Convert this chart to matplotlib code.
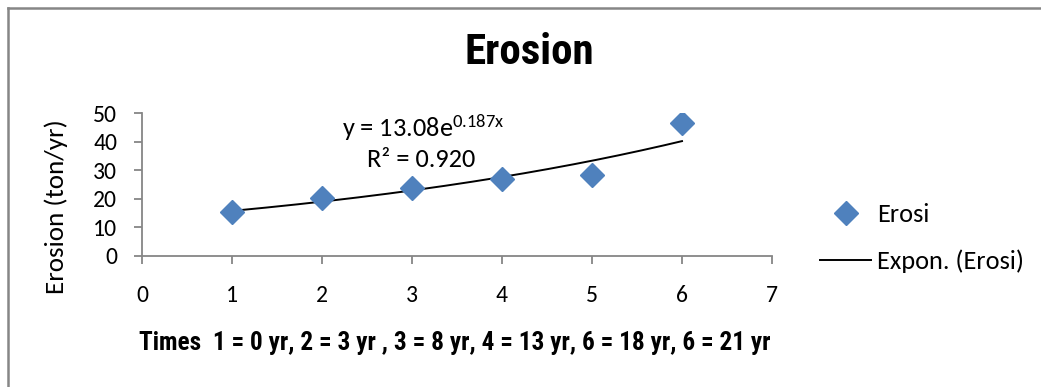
import numpy as np
import matplotlib
matplotlib.use("Agg")
import matplotlib.pyplot as plt
from matplotlib.lines import Line2D

# ---- data ----
times = [1, 2, 3, 4, 5, 6]
erosion = [15.4, 20.2, 23.8, 26.9, 28.3, 46.5]
fit_a = 13.08
fit_b = 0.187
r2 = 0.920
x_ticks = [0, 1, 2, 3, 4, 5, 6, 7]
y_ticks = [0, 10, 20, 30, 40, 50]
title = "Erosion"
ylabel = "Erosion (ton/yr)"
xlabel = "Times  1 = 0 yr, 2 = 3 yr , 3 = 8 yr, 4 = 13 yr, 6 = 18 yr, 6 = 21 yr"

BODY = ['Carlito', 'Lato', 'DejaVu Sans']
NARROW = ['Roboto Condensed', 'Archivo Narrow', 'IBM Plex Sans Condensed', 'DejaVu Sans']
plt.rcParams['font.family'] = BODY
plt.rcParams['mathtext.default'] = 'regular'

W, H = 1041, 387
fig = plt.figure(figsize=(W / 100, H / 100), dpi=100)
fig.patch.set_facecolor('white')

def fx(px):
    return px / W

def fy(py):
    return 1 - py / H

ax = fig.add_axes([fx(142), fy(256), fx(772) - fx(142), fy(113) - fy(256)])

xs = np.linspace(times[0], times[-1], 200)
trend = fit_a * np.exp(fit_b * xs)
ax.plot(times, erosion, linestyle='none', marker='D', markersize=12,
        color='#4F81BD', label='Erosi', zorder=3)
ax.plot(xs, trend, color='black', linewidth=1.4, label='Expon. (Erosi)', zorder=2)

ax.set_xlim(0, 7)
ax.set_ylim(0, 50)
ax.set_xticks(x_ticks)
ax.set_yticks(y_ticks)
for s in ['top', 'right']:
    ax.spines[s].set_visible(False)
for s in ['left', 'bottom']:
    ax.spines[s].set_color('#868686')
    ax.spines[s].set_linewidth(1.3)
ax.tick_params(axis='both', colors='#868686', length=5.8, width=1.3, direction='out',
               labelcolor='black', labelsize=17)
ax.tick_params(axis='x', pad=15)
ax.tick_params(axis='y', pad=12)
ax.set_facecolor('none')

fig.text(fx(56), fy(207), ylabel, rotation=90, ha='center', va='center', fontsize=19.5)
fig.text(fx(529), fy(52), title, ha='center', va='center', fontsize=31,
         fontweight='bold', family=NARROW)
fig.text(fx(455), fy(343), xlabel, ha='center', va='center', fontsize=18.2,
         fontweight='bold', family=NARROW)

fig.text(fx(342), fy(128), "y = %.2fe$^{%.3fx}$" % (fit_a, fit_b),
         ha='left', va='center', fontsize=19)
fig.text(fx(367), fy(159), "R² = %.3f" % r2, ha='left', va='center', fontsize=19)

ax.legend(loc='center left', bbox_to_anchor=(fx(820), fy(238)),
          bbox_transform=fig.transFigure, frameon=False, fontsize=19,
          handlelength=1.95, handletextpad=0.2, labelspacing=0.88,
          borderpad=0, borderaxespad=0)

# chart border (top and left visible)
fig.add_artist(Line2D([fx(8), 1], [fy(8), fy(8)], color='#868686', linewidth=1.8,
                      transform=fig.transFigure))
fig.add_artist(Line2D([fx(8), fx(8)], [fy(8), 0], color='#868686', linewidth=1.8,
                      transform=fig.transFigure))

fig.savefig('out.png', dpi=100)
